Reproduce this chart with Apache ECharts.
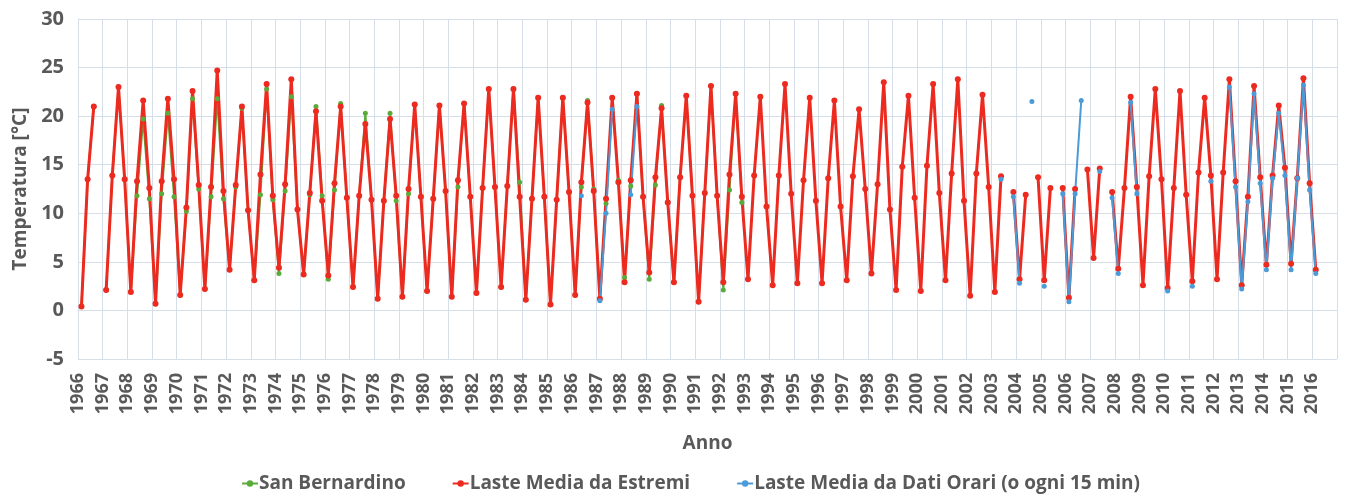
<!DOCTYPE html>
<html><head><meta charset="utf-8">
<script src="https://cdn.jsdelivr.net/npm/echarts@6/dist/echarts.min.js"></script>
<style>html,body{margin:0;padding:0;background:#fff}#c{width:1346px;height:495px}</style>
</head><body><div id="c"></div>
<script>
// Year tick labels on the x axis
const tickYears = [1966,1967,1968,1969,1970,1971,1972,1973,1974,1975,1976,1977,1978,1979,1980,
  1981,1982,1983,1984,1985,1986,1987,1988,1989,1990,1991,1992,1993,1994,1995,1996,1997,1998,1999,
  2000,2001,2002,2003,2004,2005,2006,2007,2008,2009,2010,2011,2012,2013,2014,2015,2016];
const startYear = 1966;
const seriesNames = ['San Bernardino', 'Laste Media da Estremi', 'Laste Media da Dati Orari (o ogni 15 min)'];

// Seasonal means (winter, spring, summer, autumn) per year, starting 1966
const sanBernardino = [
  0.4,13.5,21.0,null,   2.1,13.9,23.0,13.5,   1.9,11.8,19.7,11.5,   0.7,12.0,20.3,11.7,
  1.6,10.2,21.8,12.5,   2.2,11.7,21.8,11.5,   4.2,12.7,20.8,10.3,   3.1,11.9,22.8,11.4,
  3.8,12.3,22.0,10.4,   3.7,11.9,21.0,11.8,   3.2,12.4,21.3,11.6,   2.4,11.8,20.3,11.4,
  1.2,11.3,20.3,11.3,   1.4,12.0,21.2,11.7,   2.0,11.5,21.1,12.3,   1.4,12.7,21.3,11.7,
  1.8,12.6,22.8,12.7,   2.4,12.8,22.8,13.2,   1.1,11.5,21.9,11.7,   0.6,11.4,21.9,12.2,
  1.6,12.7,21.6,12.5,   1.2,11.0,21.9,13.4,   3.4,12.8,22.3,11.7,   3.2,12.9,21.1,11.1,
  2.9,13.7,22.1,11.8,   0.9,12.1,23.1,11.8,   2.1,12.4,22.3,11.1
];
const lasteEstremi = [
  0.4,13.5,21.0,null,   2.1,13.9,23.0,13.5,   1.9,13.3,21.6,12.6,   0.7,13.3,21.8,13.5,
  1.6,10.6,22.6,12.9,   2.2,12.7,24.7,12.3,   4.2,12.9,21.0,10.3,   3.1,14.0,23.3,11.8,
  4.4,13.0,23.8,10.4,   3.7,12.1,20.5,11.3,   3.6,13.1,21.0,11.6,   2.4,11.8,19.2,11.4,
  1.2,11.3,19.7,11.8,   1.4,12.5,21.2,11.7,   2.0,11.5,21.1,12.3,   1.4,13.4,21.3,11.7,
  1.8,12.6,22.8,12.7,   2.4,12.8,22.8,11.7,   1.1,11.5,21.9,11.7,   0.6,11.4,21.9,12.2,
  1.6,13.2,21.4,12.3,   1.2,11.5,21.9,13.2,   2.9,13.4,22.3,11.7,   3.9,13.7,20.8,11.1,
  2.9,13.7,22.1,11.8,   0.9,12.1,23.1,11.8,   2.9,14.0,22.3,11.7,   3.2,13.9,22.0,10.7,
  2.6,13.9,23.3,12.0,   2.8,13.4,21.9,11.3,   2.8,13.6,21.6,10.7,   3.1,13.8,20.7,12.5,
  3.8,13.0,23.5,10.4,   2.1,14.8,22.1,11.6,   2.0,14.9,23.3,12.1,   3.1,14.1,23.8,11.3,
  1.5,14.1,22.2,12.7,   1.9,13.8,null,12.2,   3.2,11.9,null,13.7,   3.1,12.6,null,12.6,
  1.3,12.5,null,14.5,   5.4,14.6,null,12.2,   4.3,12.6,22.0,12.7,   2.6,13.8,22.8,13.5,
  2.3,12.6,22.6,11.9,   3.0,14.2,21.9,13.9,   3.2,14.2,23.8,13.3,   2.6,11.7,23.1,13.7,
  4.7,13.9,21.1,14.7,   4.8,13.6,23.9,13.1,   4.2
];
const lasteOrari = [
  null,null,null,null, null,null,null,null, null,null,null,null, null,null,null,null, // 1966-69
  null,null,null,null, null,null,null,null, null,null,null,null, null,null,null,null, // 1970-73
  null,null,null,null, null,null,null,null, null,null,null,null, null,null,null,null, // 1974-77
  null,null,null,null, null,null,null,null, null,null,null,null, null,null,null,null, // 1978-81
  null,null,null,null, null,null,null,null, null,null,null,null, null,null,null,null, // 1982-85
  null,11.8,null,null, 1.0,10.0,20.7,null, null,11.9,21.0,null, null,null,null,null, // 1986-89
  null,null,null,null, null,null,null,null, null,null,null,null, null,null,null,null, // 1990-93
  null,null,null,null, null,null,null,null, null,null,null,null, null,null,null,null, // 1994-97
  null,null,null,null, null,null,null,null, null,null,null,null, null,null,null,null, // 1998-2001
  null,null,null,null, null,13.5,null,11.7, 2.8,null,21.5,null, 2.5,null,null,12.0, // 2002-05
  0.9,12.0,21.6,null,  null,14.3,null,11.6, 3.8,null,21.4,12.0, null,null,null,null, // 2006-09
  2.0,null,null,null,  2.5,null,null,13.3,  null,null,23.0,12.7, 2.2,11.2,22.3,13.1, // 2010-13
  4.2,13.6,20.3,13.9,  4.2,13.6,23.2,12.4,  3.8                                     // 2014-16
];

const colors = ['#5aab3a', '#ec2a20', '#4b9bd8'];
function toPoints(arr) {
  return arr.map((v, i) => [startYear + Math.floor(i / 4) + 0.14 + (i % 4) * 0.25, v == null ? null : v]);
}
const textColor = '#595959';
const font = '"Open Sans", sans-serif';
const gridColor = '#d6dfe9';

const chart = echarts.init(document.getElementById('c'), null, {renderer: 'canvas'});
chart.setOption({
  animation: false,
  backgroundColor: '#fff',
  textStyle: {fontFamily: font},
  grid: {left: 78, right: 9, top: 19, bottom: 136, containLabel: false},
  legend: {
    data: seriesNames,
    top: 469, left: 236,
    itemGap: 46, itemWidth: 16, itemHeight: 8,
    textStyle: {fontFamily: font, fontSize: 19, fontWeight: 'bold', color: textColor, padding: [0, 0, 0, -4]}
  },
  xAxis: {
    type: 'value', min: startYear, max: tickYears[tickYears.length - 1] + 1, interval: 1,
    name: 'Anno', nameLocation: 'middle', nameGap: 75,
    nameTextStyle: {fontFamily: font, fontSize: 19, fontWeight: 'bold', color: textColor},
    axisLine: {show: true, lineStyle: {color: gridColor, width: 1}},
    axisTick: {show: false},
    splitLine: {show: true, lineStyle: {color: gridColor, width: 1}},
    axisLabel: {
      rotate: 90, margin: 14, fontSize: 18, fontWeight: 'bold', color: textColor, fontFamily: font,
      formatter: v => tickYears.indexOf(v) >= 0 ? String(v) : ''
    }
  },
  yAxis: {
    type: 'value', min: -5, max: 30, interval: 5,
    name: 'Temperatura [°C]', nameLocation: 'middle', nameGap: 48,
    nameTextStyle: {fontFamily: font, fontSize: 19, fontWeight: 'bold', color: textColor},
    axisLine: {show: true, lineStyle: {color: gridColor, width: 1}},
    axisTick: {show: false},
    splitLine: {show: true, lineStyle: {color: gridColor, width: 1}},
    axisLabel: {margin: 14, fontSize: 20, fontWeight: 'bold', color: textColor, fontFamily: font}
  },
  series: [
    {name: seriesNames[0], type: 'line', data: toPoints(sanBernardino), color: colors[0],
     symbol: 'circle', symbolSize: 5, showAllSymbol: true, connectNulls: false,
     lineStyle: {width: 2, color: colors[0]}, itemStyle: {color: colors[0]}},
    {name: seriesNames[1], type: 'line', data: toPoints(lasteEstremi), color: colors[1],
     symbol: 'circle', symbolSize: 6, showAllSymbol: true, connectNulls: false,
     lineStyle: {width: 3, color: colors[1]}, itemStyle: {color: colors[1]}},
    {name: seriesNames[2], type: 'line', data: toPoints(lasteOrari), color: colors[2],
     symbol: 'circle', symbolSize: 5, showAllSymbol: true, connectNulls: false,
     lineStyle: {width: 2, color: colors[2]}, itemStyle: {color: colors[2]}}
  ]
});
</script></body></html>
